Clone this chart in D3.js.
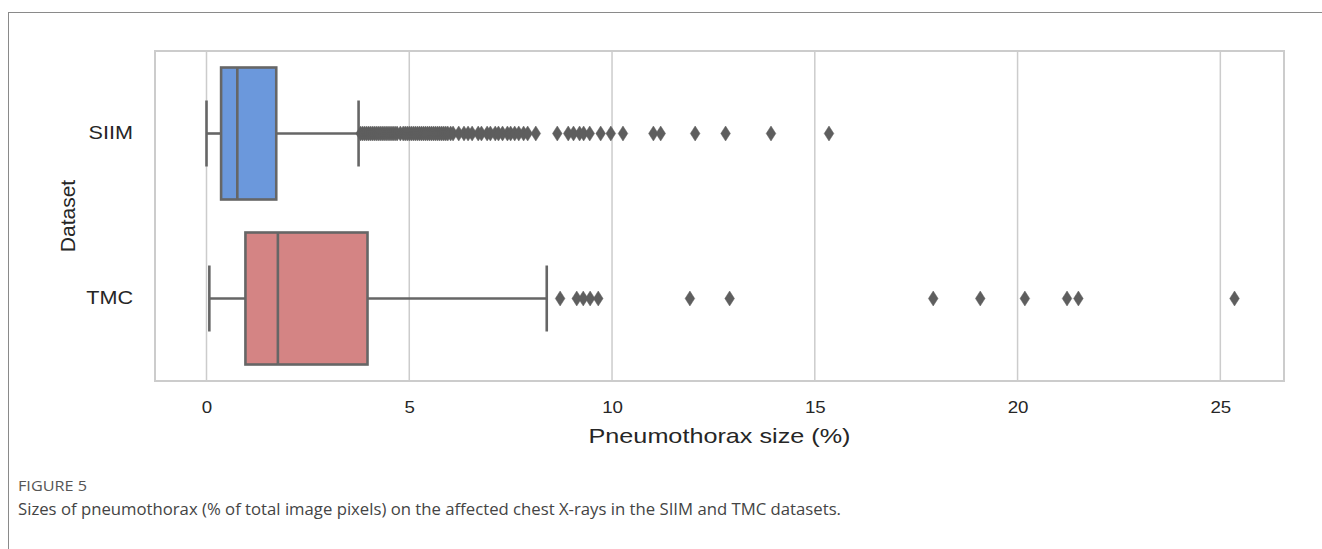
<!DOCTYPE html>
<html>
<head>
<meta charset="utf-8">
<script src="https://cdn.jsdelivr.net/npm/d3@7"></script>
<style>
  body { margin: 0; background: #fff; }
  svg { display: block; }
</style>
</head>
<body>
<div id="chart"></div>
<script>
// dati
var categories = ["SIIM", "TMC"];
var boxColors = ["#6b98dc", "#d48484"];
var whiskerLow = [0.0, 0.07];
var q1 = [0.36, 0.96];
var medians = [0.76, 1.76];
var q3 = [1.72, 3.97];
var whiskerHigh = [3.75, 8.39];

var outliersSIIM = [3.8, 3.85, 3.9, 3.95, 4.0, 4.05, 4.1, 4.15, 4.2, 4.25, 4.3, 4.35, 4.4, 4.45,
  4.5, 4.55, 4.6, 4.65, 4.7, 4.78, 4.85, 4.9, 4.95, 5.0, 5.05, 5.1, 5.15, 5.2, 5.25, 5.3, 5.35,
  5.4, 5.45, 5.5, 5.55, 5.6, 5.65, 5.7, 5.75, 5.8, 5.85, 5.9, 5.95, 6.02, 6.08,
  6.22, 6.35, 6.45, 6.55, 6.7, 6.78, 6.92, 7.0, 7.12, 7.2, 7.3, 7.42, 7.5, 7.6, 7.7, 7.82, 7.92,
  8.12, 8.65, 8.92, 9.05, 9.2, 9.3, 9.45, 9.72, 9.97, 10.27, 11.02, 11.2, 12.05, 12.8, 13.92, 15.35];
var outliersTMC = [8.72, 9.13, 9.29, 9.46, 9.66, 11.92, 12.9, 17.92, 19.08, 20.18, 21.22, 21.5, 25.35];

var xTicks = [0, 5, 10, 15, 20, 25];
var xLabel = "Pneumothorax size (%)";
var yLabel = "Dataset";
var figLabel = "FIGURE 5";
var caption = "Sizes of pneumothorax (% of total image pixels) on the affected chest X-rays in the SIIM and TMC datasets.";

var width = 1322, height = 549;
var plot = { left: 155, right: 1284, top: 51, bottom: 381 };
var lineColor = "#666666";
var gridColor = "#cccccc";
var stretch = 1.2; // l'immagine originale è allargata in orizzontale

var svg = d3.select("#chart").append("svg")
  .attr("width", width)
  .attr("height", height);

// allarga il testo in orizzontale come nell'originale
function widen(sel, factor) {
  sel.each(function () {
    var w = this.getComputedTextLength();
    d3.select(this).attr("textLength", w * factor).attr("lengthAdjust", "spacingAndGlyphs");
  });
}

// cornice esterna
svg.append("line").attr("x1", 8).attr("x2", width).attr("y1", 12.5).attr("y2", 12.5)
  .attr("stroke", "#8a8a8a").attr("stroke-width", 1);
svg.append("line").attr("x1", 8.5).attr("x2", 8.5).attr("y1", 12).attr("y2", height)
  .attr("stroke", "#8a8a8a").attr("stroke-width", 1);

var x = d3.scaleLinear().domain([-1.27, 26.57]).range([plot.left, plot.right]);
var y = d3.scaleBand().domain(categories).range([plot.top, plot.bottom])
  .paddingInner(0.2).paddingOuter(0.1);

// griglia verticale
svg.append("g").selectAll("line")
  .data(xTicks)
  .enter().append("line")
  .attr("x1", d => x(d)).attr("x2", d => x(d))
  .attr("y1", plot.top).attr("y2", plot.bottom)
  .attr("stroke", gridColor).attr("stroke-width", 1.5);

// bordo area del grafico
svg.append("rect")
  .attr("x", plot.left).attr("y", plot.top)
  .attr("width", plot.right - plot.left).attr("height", plot.bottom - plot.top)
  .attr("fill", "none").attr("stroke", gridColor).attr("stroke-width", 2);

// assi
var xAxis = svg.append("g")
  .attr("transform", `translate(0,${plot.bottom})`)
  .call(d3.axisBottom(x).tickValues(xTicks).tickSize(0).tickPadding(20));
xAxis.select(".domain").remove();
xAxis.selectAll("text")
  .attr("font-family", "Liberation Sans, Arial, sans-serif")
  .attr("font-size", 17).attr("fill", "#262626")
  .call(widen, 1.1);

var yAxis = svg.append("g")
  .attr("transform", `translate(${plot.left},0)`)
  .call(d3.axisLeft(y).tickSize(0).tickPadding(22));
yAxis.select(".domain").remove();
yAxis.selectAll("text")
  .attr("font-family", "Liberation Sans, Arial, sans-serif")
  .attr("font-size", 18).attr("fill", "#262626")
  .call(widen, stretch);

svg.append("text")
  .attr("x", (plot.left + plot.right) / 2).attr("y", 443)
  .attr("text-anchor", "middle")
  .attr("font-family", "Liberation Sans, Arial, sans-serif")
  .attr("font-size", 21).attr("fill", "#262626")
  .text(xLabel)
  .call(widen, stretch);

svg.append("text")
  .attr("transform", `translate(75,${(plot.top + plot.bottom) / 2}) rotate(-90)`)
  .attr("text-anchor", "middle")
  .attr("font-family", "Liberation Sans, Arial, sans-serif")
  .attr("font-size", 21).attr("fill", "#262626")
  .text(yLabel);

// box plot
var boxes = svg.append("g").selectAll("g")
  .data(categories)
  .enter().append("g");

boxes.each(function (cat, i) {
  var g = d3.select(this);
  var cy = y(cat) + y.bandwidth() / 2;
  var capH = y.bandwidth() / 4;

  // baffi
  g.append("line").attr("x1", x(whiskerLow[i])).attr("x2", x(q1[i]))
    .attr("y1", cy).attr("y2", cy).attr("stroke", lineColor).attr("stroke-width", 2.6);
  g.append("line").attr("x1", x(q3[i])).attr("x2", x(whiskerHigh[i]))
    .attr("y1", cy).attr("y2", cy).attr("stroke", lineColor).attr("stroke-width", 2.6);
  [whiskerLow[i], whiskerHigh[i]].forEach(v => {
    g.append("line").attr("x1", x(v)).attr("x2", x(v))
      .attr("y1", cy - capH).attr("y2", cy + capH)
      .attr("stroke", lineColor).attr("stroke-width", 2.6);
  });

  // scatola
  g.append("rect")
    .attr("x", x(q1[i])).attr("y", y(cat))
    .attr("width", x(q3[i]) - x(q1[i])).attr("height", y.bandwidth())
    .attr("fill", boxColors[i]).attr("stroke", lineColor).attr("stroke-width", 2.6);

  // mediana
  g.append("line").attr("x1", x(medians[i])).attr("x2", x(medians[i]))
    .attr("y1", y(cat)).attr("y2", y(cat) + y.bandwidth())
    .attr("stroke", lineColor).attr("stroke-width", 2.6);

  // outlier a rombo
  var outs = i === 0 ? outliersSIIM : outliersTMC;
  g.selectAll("path.flier")
    .data(outs)
    .enter().append("path")
    .attr("class", "flier")
    .attr("d", "M0,-7.5L4.8,0L0,7.5L-4.8,0Z")
    .attr("transform", d => `translate(${x(d)},${cy})`)
    .attr("fill", "#5e5e5e").attr("stroke", "#5e5e5e").attr("stroke-width", 0.5);
});

// didascalia
svg.append("text")
  .attr("x", 18).attr("y", 491)
  .attr("font-family", "Open Sans, Lato, sans-serif")
  .attr("font-size", 14).attr("fill", "#555555")
  .attr("textLength", 69).attr("lengthAdjust", "spacingAndGlyphs")
  .text(figLabel);

svg.append("text")
  .attr("x", 18).attr("y", 515)
  .attr("font-family", "Open Sans, Lato, sans-serif")
  .attr("font-size", 16.5).attr("fill", "#444444")
  .attr("textLength", 823).attr("lengthAdjust", "spacingAndGlyphs")
  .text(caption);
</script>
</body>
</html>
